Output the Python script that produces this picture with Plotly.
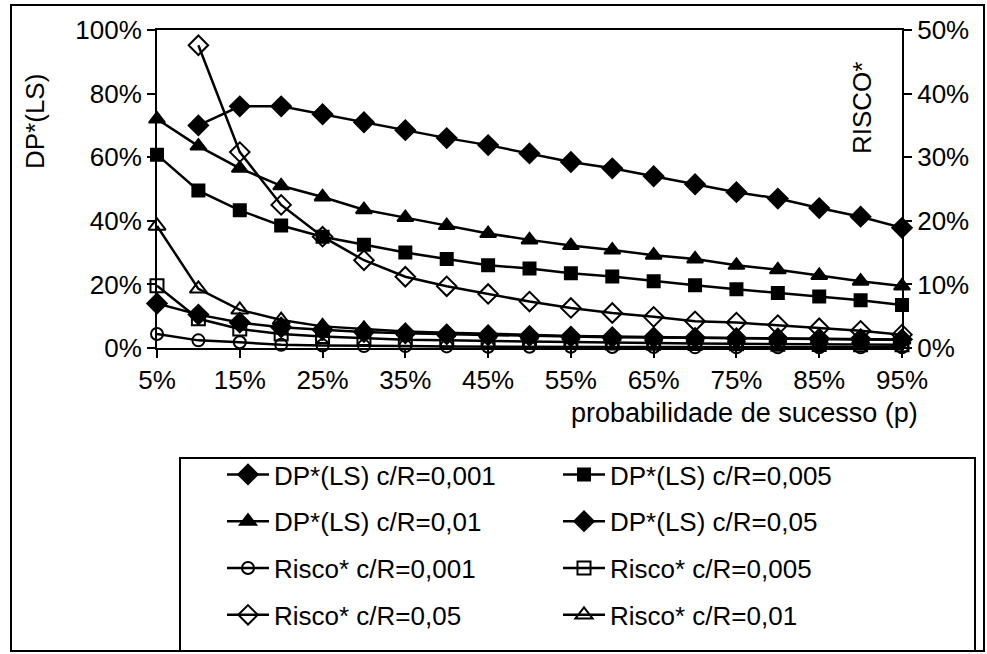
import plotly.graph_objects as go

# ---------------- data ----------------
p = [5, 10, 15, 20, 25, 30, 35, 40, 45, 50, 55, 60, 65, 70, 75, 80, 85, 90, 95]
x_tickvals = [5, 15, 25, 35, 45, 55, 65, 75, 85, 95]
x_ticktext = ["5%", "15%", "25%", "35%", "45%", "55%", "65%", "75%", "85%", "95%"]
y1_tickvals = [0, 20, 40, 60, 80, 100]
y1_ticktext = ["0%", "20%", "40%", "60%", "80%", "100%"]
y2_tickvals = [0, 10, 20, 30, 40, 50]
y2_ticktext = ["0%", "10%", "20%", "30%", "40%", "50%"]

dp_0001 = [None, 70, 76, 76, 73.5, 71, 68.5, 66, 63.8, 61.2, 58.5, 56.5, 54, 51.5, 49, 47, 44, 41.3, 37.8]
dp_0005 = [60.8, 49.5, 43.3, 38.5, 35, 32.5, 30, 28, 26, 25, 23.5, 22.5, 21, 19.7, 18.5, 17.3, 16.2, 15, 13.5]
dp_001 = [72, 63.5, 56.5, 51, 47.5, 43.5, 41, 38.5, 36, 34, 32.2, 30.8, 29.2, 28, 26, 24.6, 22.8, 21, 19.5]
dp_005 = [14, 10.5, 8, 6.5, 5.7, 5, 4.6, 4.3, 4, 3.8, 3.6, 3.4, 3.3, 3.2, 3.1, 3, 2.9, 2.8, 2.7]

risco_0001 = [2.2, 1.2, 0.9, 0.5, 0.4, 0.3, 0.3, 0.25, 0.2, 0.2, 0.2, 0.15, 0.15, 0.1, 0.1, 0.1, 0.1, 0.1, 0.1]
risco_0005 = [9.8, 4.6, 3, 2.2, 1.8, 1.5, 1.3, 1.2, 1.1, 1.0, 0.9, 0.8, 0.75, 0.7, 0.65, 0.6, 0.55, 0.5, 0.5]
risco_001 = [19.2, 9.3, 6, 4.4, 3.4, 3, 2.6, 2.4, 2.2, 2.0, 1.9, 1.8, 1.7, 1.6, 1.5, 1.45, 1.4, 1.35, 1.3]
risco_005 = [None, 47.6, 30.8, 22.5, 17.5, 13.8, 11.2, 9.7, 8.5, 7.3, 6.3, 5.5, 4.9, 4.2, 4.0, 3.6, 3.1, 2.7, 2.1]

# ---------------- styling ----------------
FONT = "Liberation Sans, Arial, sans-serif"
FS = 26
BLACK = "#000000"
LW = 2.5

W, H = 987, 654
PL, PR, PT, PB = 157, 902, 30, 348


def px_x(px):
    return (px - PL) / (PR - PL)


def px_y(py):
    return (PB - py) / (PB - PT)


fig = go.Figure()

series = [
    ("DP*(LS) c/R=0,001", dp_0001, "y", "diamond", 15, "legend"),
    ("DP*(LS) c/R=0,005", dp_0005, "y", "square", 12, "legend2"),
    ("DP*(LS) c/R=0,01", dp_001, "y", "triangle-up", 14, "legend"),
    ("DP*(LS) c/R=0,05", dp_005, "y", "diamond", 15, "legend2"),
    ("Risco* c/R=0,001", risco_0001, "y2", "circle-open", 12, "legend"),
    ("Risco* c/R=0,005", risco_0005, "y2", "square-open", 13, "legend2"),
    ("Risco* c/R=0,05", risco_005, "y2", "diamond-open", 15, "legend"),
    ("Risco* c/R=0,01", risco_001, "y2", "triangle-up-open", 15, "legend2"),
]

for i, (name, ys, ax, sym, size, leg) in enumerate(series):
    fig.add_trace(go.Scatter(
        x=p, y=ys, name=name, yaxis=ax, mode="lines+markers",
        line=dict(color=BLACK, width=LW),
        marker=dict(symbol=sym, size=size, color=BLACK,
                    line=dict(color=BLACK, width=2)),
        cliponaxis=False, connectgaps=False,
        legend=leg, legendgroup="g%d" % i,
    ))

legend_common = dict(
    xref="container", yref="container", xanchor="left", yanchor="top",
    orientation="v", font=dict(family=FONT, size=26, color=BLACK),
    bgcolor="rgba(0,0,0,0)", borderwidth=0, tracegroupgap=10, itemwidth=42,
)

axis_common = dict(showgrid=False, zeroline=False, showline=True, linecolor=BLACK,
                   linewidth=2, ticks="outside", ticklen=8, tickcolor=BLACK,
                   tickwidth=2, tickfont=dict(size=FS), automargin=False)

fig.update_layout(
    width=W, height=H,
    margin=dict(l=PL, r=W - PR, t=PT, b=H - PB, autoexpand=False),
    paper_bgcolor="white", plot_bgcolor="white",
    font=dict(family=FONT, size=FS, color=BLACK),
    xaxis=dict(range=[5, 95], tickvals=x_tickvals, ticktext=x_ticktext,
               mirror=True, **axis_common),
    yaxis=dict(range=[0, 100], tickvals=y1_tickvals, ticktext=y1_ticktext,
               **axis_common),
    yaxis2=dict(range=[0, 50], tickvals=y2_tickvals, ticktext=y2_ticktext,
                overlaying="y", side="right", **axis_common),
    legend=dict(x=222 / W, y=1 - 451 / H, **legend_common),
    legend2=dict(x=558 / W, y=1 - 451 / H, **legend_common),
    showlegend=True,
)

fig.add_annotation(text="DP*(LS)", xref="paper", yref="paper",
                   x=px_x(35), y=px_y(122), textangle=-90, showarrow=False,
                   font=dict(size=FS), xanchor="center", yanchor="middle")
fig.add_annotation(text="RISCO*", xref="paper", yref="paper",
                   x=px_x(862), y=px_y(108), textangle=-90, showarrow=False,
                   font=dict(size=FS), xanchor="center", yanchor="middle")
fig.add_annotation(text="probabilidade de sucesso (p)", xref="paper", yref="paper",
                   x=px_x(920), y=px_y(413), showarrow=False,
                   font=dict(size=27), xanchor="right", yanchor="middle")

fig.add_shape(type="rect", xref="paper", yref="paper",
              x0=px_x(11), x1=px_x(984), y0=px_y(651), y1=px_y(5),
              line=dict(color=BLACK, width=2), layer="below")
fig.add_shape(type="rect", xref="paper", yref="paper",
              x0=px_x(180), x1=px_x(975), y0=px_y(651), y1=px_y(458),
              line=dict(color=BLACK, width=2), layer="below")

fig.write_html("out.html")
